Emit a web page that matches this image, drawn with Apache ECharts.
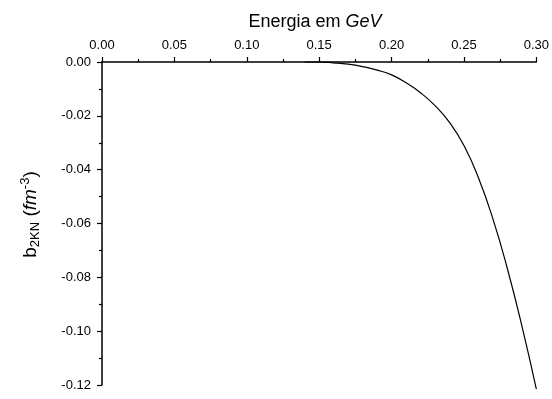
<!DOCTYPE html>
<html>
<head>
<meta charset="utf-8">
<script src="https://cdn.jsdelivr.net/npm/echarts@6/dist/echarts.min.js"></script>
<style>
  html, body { margin: 0; padding: 0; background: #fff; }
  #chart { width: 552px; height: 399px; }
</style>
</head>
<body>
<div id="chart"></div>
<script>
// Energy (GeV) and b_2KN (fm^-3) along the curve
const energy = [0.14, 0.15, 0.16, 0.17, 0.18, 0.19, 0.20, 0.21, 0.22, 0.23, 0.24, 0.25, 0.26, 0.27, 0.28, 0.29, 0.30];
const b2kn   = [0.0, 0.0, -0.0003, -0.0008, -0.0017, -0.0030, -0.0048, -0.0077, -0.0114, -0.0162, -0.0224, -0.0310, -0.0430, -0.0583, -0.0768, -0.0980, -0.1215];

const xTicks = { min: 0, max: 0.30, step: 0.05 };
const yTicks = { min: -0.12, max: 0.00, step: 0.02 };

const font = 'Liberation Sans, Arial, sans-serif';
const chart = echarts.init(document.getElementById('chart'), null, { renderer: 'canvas' });

const axisCommon = {
  axisLine: { show: true, onZero: false, lineStyle: { color: '#000', width: 1.5 } },
  axisTick: { show: true, inside: false, length: 5, lineStyle: { color: '#000', width: 1.2 } },
  minorTick: { show: true, splitNumber: 2, length: 3, lineStyle: { color: '#000', width: 1.2 } },
  splitLine: { show: false },
  minorSplitLine: { show: false },
  axisLabel: { color: '#000', fontFamily: font, fontSize: 13, formatter: v => v.toFixed(2) }
};

chart.setOption({
  animation: false,
  backgroundColor: '#fff',
  title: {
    text: '{n|Energia em }{i|GeV}',
    left: 310, top: 8, textAlign: 'center',
    textStyle: {
      fontWeight: 'normal',
      rich: {
        n: { fontFamily: font, fontSize: 18, fontWeight: 'normal', color: '#000' },
        i: { fontFamily: font, fontSize: 18, fontWeight: 'normal', fontStyle: 'italic', color: '#000' }
      }
    }
  },
  grid: { left: 102, right: 12, top: 62, bottom: 14, containLabel: false },
  xAxis: Object.assign({}, axisCommon, {
    type: 'value', position: 'top',
    min: xTicks.min, max: xTicks.max, interval: xTicks.step,
    axisLabel: Object.assign({}, axisCommon.axisLabel, { margin: 10, showMaxLabel: true })
  }),
  yAxis: Object.assign({}, axisCommon, {
    type: 'value', position: 'left',
    min: yTicks.min, max: yTicks.max, interval: yTicks.step,
    axisLabel: Object.assign({}, axisCommon.axisLabel, { margin: 11 }),
    name: '{n|b}{sub|2KN}{n| (}{i|fm}{sup|-3}{n|)}',
    nameLocation: 'middle', nameRotate: 90, nameGap: 60,
    nameTextStyle: {
      padding: [0, 0, 0, 18],
      rich: {
        n: { fontFamily: font, fontSize: 19, color: '#000' },
        i: { fontFamily: font, fontSize: 19, fontStyle: 'italic', color: '#000' },
        sub: { fontFamily: font, fontSize: 13, color: '#000', verticalAlign: 'bottom', padding: [10, 0, 0, 0] },
        sup: { fontFamily: font, fontSize: 13, color: '#000', verticalAlign: 'top', padding: [0, 0, 10, 0] }
      }
    }
  }),
  series: [{
    type: 'line',
    data: energy.map((e, i) => [e, b2kn[i]]),
    smooth: 0.5,
    showSymbol: false,
    clip: false,
    lineStyle: { color: '#000', width: 1.2 }
  }]
});
</script>
</body>
</html>
